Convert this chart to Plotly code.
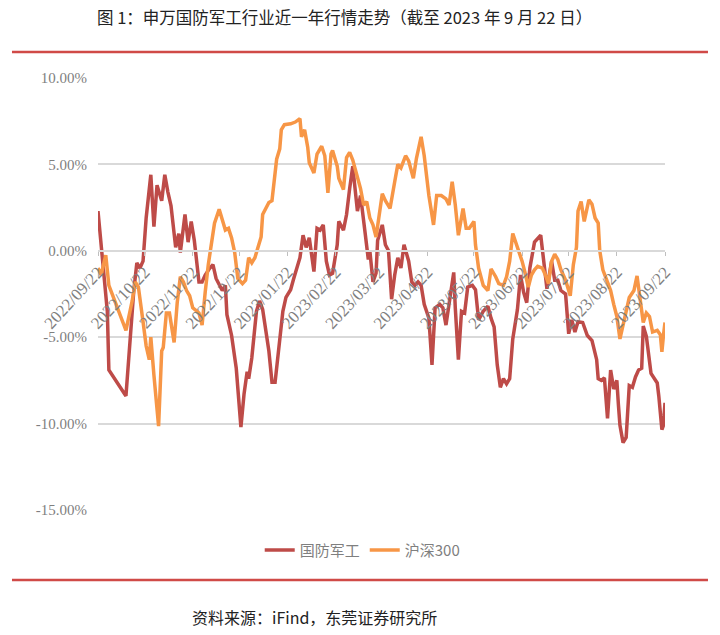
import pandas as pd
import plotly.graph_objects as go

title_text = "图 1：申万国防军工行业近一年行情走势（截至 2023 年 9 月 22 日）"
source_text = "资料来源：iFind，东莞证券研究所"
start_date = "2022-09-22"

# day offsets since 2022-09-22 and cumulative return (%)
defense_days = [0, 6, 7, 18, 23, 25, 27, 29, 31, 34, 36, 38, 41, 43, 45, 47, 50, 52, 53, 56, 58, 60, 62, 65, 67,
                69, 72, 74, 76, 79, 80, 82, 83, 86, 88, 89, 92, 94, 96, 97, 99, 102, 104, 106, 110, 112, 114, 116,
                119, 121, 124, 126, 130, 132, 134, 136, 139, 141, 143, 145, 147, 149, 151, 154, 155, 158, 160, 162,
                164, 165, 167, 169, 171, 172, 174, 175, 177, 179, 180, 183, 185, 187, 189, 191, 193, 195, 197, 200,
                202, 204, 206, 208, 210, 213, 215, 217, 220, 222, 224, 227, 229, 230, 232, 234, 236, 238, 241, 243,
                245, 248, 251, 253, 255, 257, 259, 261, 263, 265, 267, 270, 272, 274, 276, 278, 281, 285, 287, 289,
                292, 294, 296, 298, 301, 303, 305, 307, 309, 312, 315, 318, 321, 322, 324, 326, 328, 330, 332, 334,
                335, 336, 338, 340, 342, 344, 346, 348, 350, 351, 353, 356, 360, 361, 363, 364, 365]
defense_vals = [2.3, -3.5, -6.9, -8.4, -2.35, -0.7, -1.0, -0.6, 1.9, 4.4, 1.4, 3.8, 2.9, 4.4, 3.4, 2.6, 0.2, 1.0,
                -0.1, 2.1, 0.5, 1.7, 0.6, -1.8, -1.8, -1.4, -1.0, -0.8, -1.6, -2.1, -2.3, -2.0, -3.7, -4.9, -6.2,
                -6.8, -10.2, -8.3, -7.0, -7.4, -6.2, -3.5, -2.9, -3.4, -5.8, -7.6, -7.6, -5.8, -3.5, -2.7, -2.25,
                -1.6, -0.4, 0.9, 0.2, 0.75, -1.2, 1.3, 1.2, 1.5, -0.6, -1.4, -1.3, 0.35, 1.7, 1.2, 2.1, 3.6, 4.9,
                4.0, 2.3, 3.2, 1.9, 1.0, -0.5, 0.0, -1.8, -1.3, 0.6, 1.5, 0.35, 0.0, -2.8, -1.4, -0.4, -1.0, 0.35,
                -0.6, -1.8, -2.0, -1.8, -2.0, -3.1, -3.9, -6.6, -3.3, -3.1, -3.3, -4.3, -2.35, -1.25, -3.3, -6.3,
                -3.5, -3.6, -2.1, -2.0, -2.25, -4.0, -3.5, -3.2, -3.9, -4.4, -6.6, -7.9, -7.4, -7.7, -7.4, -5.1,
                -3.4, -1.4, -2.4, -3.0, -1.0, 0.5, 0.9, -0.6, -2.2, -0.6, -1.7, -1.7, -2.3, -2.5, -4.8, -4.0, -4.7,
                -4.1, -4.15, -4.9, -5.2, -6.3, -7.4, -7.5, -7.35, -9.7, -6.9, -8.0, -7.5, -8.9, -10.1, -11.1, -10.8,
                -7.8, -7.9, -7.3, -6.9, -6.8, -4.35, -4.95, -7.1, -7.65, -8.4, -10.35, -10.1, -8.8]

hs300_days = [0, 2, 5, 7, 18, 22, 24, 26, 29, 31, 33, 34, 36, 38, 39, 41, 42, 44, 46, 49, 51, 53, 55, 57, 59, 61,
              65, 67, 68, 69, 71, 73, 75, 78, 80, 82, 84, 86, 88, 90, 93, 95, 97, 99, 101, 103, 105, 106, 110, 112,
              114, 115, 117, 118, 120, 124, 127, 130, 131, 133, 135, 136, 139, 141, 144, 146, 148, 150, 151, 154,
              155, 158, 160, 162, 164, 167, 169, 171, 173, 175, 177, 179, 181, 183, 185, 188, 191, 193, 195, 198,
              200, 203, 205, 208, 210, 213, 216, 218, 221, 224, 226, 228, 230, 232, 235, 237, 239, 242, 243, 245,
              248, 251, 253, 256, 258, 261, 263, 265, 267, 270, 273, 275, 277, 279, 281, 283, 286, 288, 290, 292,
              294, 296, 298, 301, 303, 304, 306, 308, 309, 311, 313, 316, 318, 320, 322, 323, 325, 327, 330, 332,
              334, 336, 338, 340, 342, 345, 347, 349, 351, 353, 355, 357, 360, 362, 363, 364, 365]
hs300_vals = [-1.0, -1.4, -0.25, -2.0, -4.6, -2.9, -1.8, -2.1, -4.1, -5.5, -6.3, -5.0, -7.2, -9.5, -10.15, -5.8,
              -5.6, -3.6, -3.6, -5.3, -3.0, -1.5, -1.8, -2.3, -2.6, -3.3, -3.6, -4.3, -3.2, -2.4, -0.8, 0.4, 1.6,
              2.4, 1.7, 1.2, 1.3, 0.75, -0.1, -1.6, -1.9, -1.7, -0.4, -0.7, -0.4, 0.2, 0.8, 2.1, 2.8, 2.9, 4.6, 5.3,
              5.9, 7.0, 7.3, 7.35, 7.45, 7.65, 6.6, 7.0, 6.0, 5.1, 4.5, 5.6, 6.05, 5.5, 3.35, 5.6, 5.8, 4.9, 4.2,
              3.55, 5.4, 5.7, 5.25, 4.2, 3.6, 2.65, 2.85, 1.9, 1.5, 0.8, 2.0, 3.3, 2.9, 2.45, 4.0, 5.0, 4.8, 5.5,
              5.2, 4.2, 5.35, 6.6, 5.5, 3.2, 1.5, 3.2, 3.2, 3.0, 2.65, 4.0, 2.65, 0.9, 2.45, 1.3, 1.3, 1.7, 0.35,
              -1.0, -2.0, -2.3, -1.05, -1.5, -1.9, -2.0, -1.5, -0.6, 1.0, 0.2, -0.6, -1.3, -2.1, -1.4, -1.1, -0.9,
              -1.0, -1.4, -1.9, -0.6, -0.2, -0.5, -1.1, -1.7, -2.4, -2.6, -0.8, 0.2, 2.3, 2.85, 1.7, 2.95, 2.7, 1.9,
              1.6, 0.0, -1.1, -1.6, -2.3, -3.1, -3.8, -5.1, -4.2, -3.5, -2.7, -2.3, -1.45, -2.9, -4.15, -3.6, -3.8,
              -4.7, -4.6, -4.85, -5.85, -4.9, -4.15]

tick_dates = ["2022-09-22", "2022-10-22", "2022-11-22", "2022-12-22", "2023-01-22", "2023-02-22", "2023-03-22",
              "2023-04-22", "2023-05-22", "2023-06-22", "2023-07-22", "2023-08-22", "2023-09-22"]
tick_labels = ["2022/09/22", "2022/10/22", "2022/11/22", "2022/12/22", "2023/01/22", "2023/02/22", "2023/03/22",
               "2023/04/22", "2023/05/22", "2023/06/22", "2023/07/22", "2023/08/22", "2023/09/22"]
y_ticks = [-15, -10, -5, 0, 5, 10]
y_tick_labels = ["-15.00%", "-10.00%", "-5.00%", "0.00%", "5.00%", "10.00%"]

base = pd.Timestamp(start_date)
defense_x = base + pd.to_timedelta(defense_days, unit="D")
hs300_x = base + pd.to_timedelta(hs300_days, unit="D")

RED = "#BE4B48"
ORANGE = "#F79646"
GRID = "#D9D9D9"
TICK = "#7F7F7F"

fig = go.Figure()
fig.add_trace(go.Scatter(x=defense_x, y=defense_vals, mode="lines", name="国防军工",
                         line=dict(color=RED, width=3.5)))
fig.add_trace(go.Scatter(x=hs300_x, y=hs300_vals, mode="lines", name="沪深300",
                         line=dict(color=ORANGE, width=3.5)))

y_min, y_max = -15, 10
fig.update_layout(
    width=720, height=635,
    margin=dict(l=98, r=55, t=78, b=125),
    paper_bgcolor="white", plot_bgcolor="white",
    font=dict(family="Noto Sans CJK SC", color=TICK),
    showlegend=True,
    legend=dict(orientation="h", x=0.466, xanchor="center", y=-0.093, yanchor="middle",
                font=dict(size=15, color=TICK, family="Noto Sans CJK SC"), itemwidth=30),
    xaxis=dict(
        type="date",
        range=[tick_dates[0], tick_dates[-1]],
        tickmode="array", tickvals=tick_dates, ticktext=tick_labels,
        tickangle=-47,
        tickfont=dict(family="Liberation Serif", size=17, color=TICK),
        showgrid=False, zeroline=False,
        showline=True, linecolor=GRID, linewidth=1.5,
        ticks="outside", ticklen=4, tickcolor="#BFBFBF",
        anchor="free", position=(0 - y_min) / (y_max - y_min),
    ),
    yaxis=dict(
        range=[y_min, y_max],
        tickmode="array", tickvals=y_ticks, ticktext=y_tick_labels,
        tickfont=dict(family="Liberation Serif", size=15, color=TICK),
        showgrid=True, gridcolor=GRID, gridwidth=1.5,
        zeroline=False, showline=False, ticks="",
        ticklabelstandoff=10,
    ),
    annotations=[
        dict(text=title_text, xref="paper", yref="paper", x=-0.005, y=1.141,
             xanchor="left", yanchor="middle", showarrow=False,
             font=dict(size=16.5, color="#222222", family="Noto Sans CJK SC")),
        dict(text=source_text, xref="paper", yref="paper", x=0.1623, y=-0.2477,
             xanchor="left", yanchor="middle", showarrow=False,
             font=dict(size=16, color="#222222", family="Noto Sans CJK SC")),
    ],
    shapes=[
        dict(type="line", xref="paper", yref="paper", x0=-0.1517, x1=1.0758, y0=1.0602, y1=1.0602,
             line=dict(color="#D04A47", width=2.5)),
        dict(type="line", xref="paper", yref="paper", x0=-0.1517, x1=1.0758, y0=-0.162, y1=-0.162,
             line=dict(color="#D04A47", width=2.5)),
    ],
)

fig.write_html("out.html")
